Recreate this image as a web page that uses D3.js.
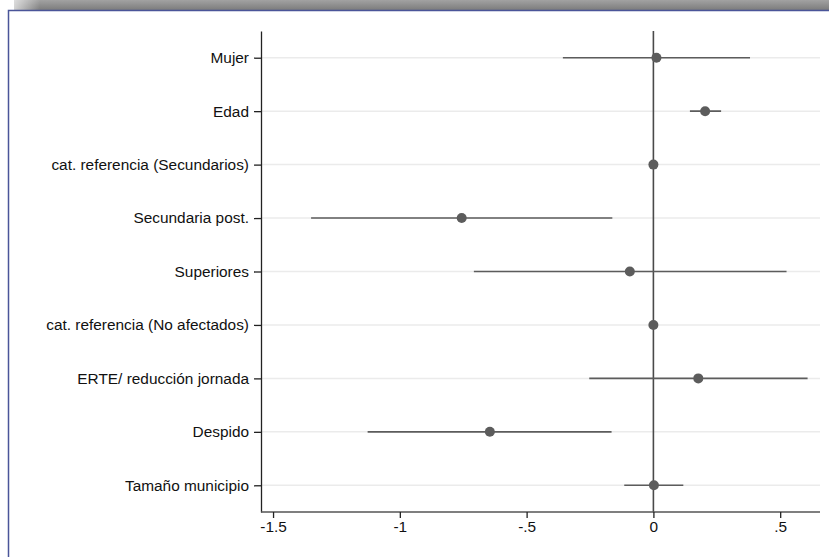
<!DOCTYPE html>
<html>
<head>
<meta charset="utf-8">
<script src="https://cdn.jsdelivr.net/npm/d3@7"></script>
<style>
  body { margin: 0; background: #fff; }
  svg { display: block; font-family: Arial, "Liberation Sans", sans-serif; }
</style>
</head>
<body>
<div id="chart"></div>
<script>
// coefficients and 95% intervals, top to bottom
let labels = ["Mujer", "Edad", "cat. referencia (Secundarios)", "Secundaria post.", "Superiores",
              "cat. referencia (No afectados)", "ERTE/ reducción jornada", "Despido", "Tamaño municipio"];
let coefs = [0.012, 0.204, 0, -0.756, -0.093, 0, 0.177, -0.645, 0.002];
let lower = [-0.357, 0.144, null, -1.350, -0.708, null, -0.253, -1.127, -0.115];
let upper = [0.381, 0.267, null, -0.162, 0.525, null, 0.608, -0.165, 0.118];
let xTicks = [-1.5, -1, -0.5, 0, 0.5];
let xTickLabels = ["-1.5", "-1", "-.5", "0", ".5"];

let width = 829;
let height = 557;

let svg = d3.select("#chart").append("svg")
    .attr("width", width)
    .attr("height", height);

// window frame: grey title strip and blue border
let defs = svg.append("defs");
let grad = defs.append("linearGradient").attr("id", "bar").attr("x1", 0).attr("x2", 0).attr("y1", 0).attr("y2", 1);
grad.append("stop").attr("offset", "0%").attr("stop-color", "#a2a2a2");
grad.append("stop").attr("offset", "100%").attr("stop-color", "#7c7c7c");
let fade = defs.append("linearGradient").attr("id", "fade");
fade.append("stop").attr("offset", "0%").attr("stop-color", "#fff").attr("stop-opacity", 1);
fade.append("stop").attr("offset", "100%").attr("stop-color", "#fff").attr("stop-opacity", 0);

svg.append("rect").attr("x", 0).attr("y", 0).attr("width", width).attr("height", 10).attr("fill", "url(#bar)");
svg.append("rect").attr("x", 0).attr("y", 0).attr("width", 40).attr("height", 10).attr("fill", "url(#fade)");
svg.append("rect").attr("x", 0).attr("y", 0).attr("width", 14).attr("height", 10).attr("fill", "#fff");
svg.append("path")
    .attr("d", "M8.5," + height + "V10.5H" + width)
    .attr("fill", "none")
    .attr("stroke", "#4a5599")
    .attr("stroke-width", 1.5);

let plotLeft = 261, plotRight = 820, plotTop = 31, plotBottom = 512;

let x = d3.scaleLinear()
    .domain([-1.5475, 0.657])
    .range([plotLeft, plotRight]);

let y = d3.scalePoint()
    .domain(labels)
    .range([plotTop, plotBottom])
    .padding(0.5);

// gridlines
svg.append("g").selectAll("line")
    .data(labels)
    .join("line")
    .attr("x1", plotLeft)
    .attr("x2", plotRight)
    .attr("y1", d => y(d))
    .attr("y2", d => y(d))
    .attr("stroke", "#ebebeb")
    .attr("stroke-width", 1.5);

// zero reference line
svg.append("line")
    .attr("x1", x(0)).attr("x2", x(0))
    .attr("y1", plotTop).attr("y2", plotBottom)
    .attr("stroke", "#4a4a4a")
    .attr("stroke-width", 1.6);

// axes
let yAxis = svg.append("g")
    .attr("transform", "translate(" + plotLeft + ",0)")
    .call(d3.axisLeft(y).tickSize(7).tickSizeOuter(0).tickPadding(5));
yAxis.select(".domain").attr("stroke", "#222").attr("stroke-width", 1.3);
yAxis.selectAll(".tick line").attr("stroke", "#222").attr("stroke-width", 1.3);
yAxis.selectAll("text").attr("font-size", 15.4).attr("fill", "#111");

let xAxis = svg.append("g")
    .attr("transform", "translate(0," + plotBottom + ")")
    .call(d3.axisBottom(x).tickValues(xTicks).tickFormat((d, i) => xTickLabels[i]).tickSize(6).tickSizeOuter(0).tickPadding(3));
xAxis.select(".domain").attr("stroke", "#555").attr("stroke-width", 1.6).attr("d", "M" + plotLeft + ",0H" + plotRight);
xAxis.selectAll(".tick line").attr("stroke", "#222").attr("stroke-width", 1.3);
xAxis.selectAll("text").attr("font-size", 15.4).attr("fill", "#111");

// confidence intervals
let rows = labels.map((d, i) => ({ label: d, b: coefs[i], lo: lower[i], hi: upper[i] }));

svg.append("g").selectAll("line")
    .data(rows.filter(d => d.lo !== null))
    .join("line")
    .attr("x1", d => x(d.lo))
    .attr("x2", d => x(d.hi))
    .attr("y1", d => y(d.label))
    .attr("y2", d => y(d.label))
    .attr("stroke", "#5c5c5c")
    .attr("stroke-width", 1.6);

svg.append("g").selectAll("circle")
    .data(rows)
    .join("circle")
    .attr("cx", d => x(d.b))
    .attr("cy", d => y(d.label))
    .attr("r", 5)
    .attr("fill", "#5c5c5c");
</script>
</body>
</html>
